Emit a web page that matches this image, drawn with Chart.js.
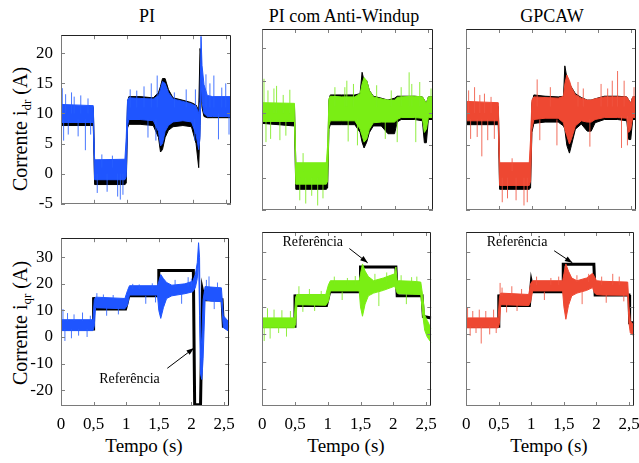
<!DOCTYPE html>
<html>
<head>
<meta charset="utf-8">
<script src="https://cdn.jsdelivr.net/npm/chart.js@4.4.1/dist/chart.umd.min.js"></script>
<style>
  body { margin: 0; background: #fff; }
  #fig { position: relative; width: 639px; height: 463px; overflow: hidden;
         font-family: 'Liberation Serif', 'Times New Roman', serif; color: #000; }
  #fig canvas { position: absolute; }
  .title { position: absolute; font-size: 18px; line-height: 18px; white-space: nowrap; transform: translateX(-50%); }
  .ylab { position: absolute; font-size: 20px; line-height: 20px; white-space: nowrap;
          transform: translate(-50%, -50%) rotate(-90deg); }
  .ylab sub { font-size: 13px; line-height: 0; vertical-align: -4px; }
</style>
</head>
<body>
<div id="fig">
  <div class="title" style="left:147px; top:7px">PI</div>
  <div class="title" style="left:344px; top:7px">PI com Anti-Windup</div>
  <div class="title" style="left:552px; top:7px">GPCAW</div>
  <div class="ylab" style="left:20px; top:129px">Corrente i<sub>dr</sub> (A)</div>
  <div class="ylab" style="left:20px; top:323px">Corrente i<sub>qr</sub> (A)</div>
  <div class="title" style="left:144px; top:437px; font-size:19px">Tempo (s)</div>
  <div class="title" style="left:346px; top:437px; font-size:19px">Tempo (s)</div>
  <div class="title" style="left:549px; top:437px; font-size:19px">Tempo (s)</div>
</div>
<script>
// ---- tick values ----
const xTicks  = [0, 0.5, 1, 1.5, 2, 2.5];
const drTicks = [-5, 0, 5, 10, 15, 20];
const qrTicks = [-20, -10, 0, 10, 20, 30];

// ---- i_dr, PI ----
const piDrT       = [0, 0.49, 0.51, 0.97, 0.99, 1.01, 1.03, 1.20, 1.40, 1.48, 1.51, 1.54, 1.58, 1.63, 1.70, 1.85, 1.98, 2.05, 2.09, 2.11, 2.125, 2.14, 2.17, 2.22, 2.30, 2.58];
const piDrBlackHi = [11.0, 11.0, 2.2, 2.2, 2.4, 12.0, 12.8, 12.8, 12.6, 13.5, 14.5, 15.8, 15.8, 14.0, 12.6, 12.2, 11.8, 11.4, 10.5, 20.8, 19.5, 15.0, 13.2, 12.8, 12.6, 12.6];
const piDrBlackLo = [8.0, 8.0, -1.8, -1.8, -1.6, 7.6, 8.2, 8.2, 8.0, 6.0, 3.6, 4.0, 6.0, 7.2, 7.8, 8.0, 7.8, 5.0, 1.0, 8.0, 15.0, 11.0, 9.5, 9.3, 9.3, 9.3];
const piDrHi      = [11.5, 11.3, 2.3, 2.4, 6.0, 12.2, 12.6, 12.5, 12.4, 13.0, 14.0, 15.3, 15.0, 13.5, 12.4, 12.0, 11.6, 11.2, 10.0, 12.0, 22.8, 18.0, 14.8, 13.0, 12.8, 12.8];
const piDrLo      = [8.5, 8.5, -1.0, -1.0, -0.5, 8.0, 9.0, 9.0, 8.8, 7.0, 4.6, 5.0, 7.0, 8.0, 8.6, 8.8, 8.6, 6.5, 4.0, 6.0, 16.0, 12.0, 10.0, 9.5, 9.5, 9.5];
const piDrSpikes  = [[0.02, 10, 14.2], [0.04, 5.5, 9], [0.07, 10, 13.2], [0.11, 6.5, 9], [0.16, 10, 13.5], [0.2, 10, 12.8],
  [0.26, 6.2, 9], [0.3, 10, 13.0], [0.37, 3.9, 9], [0.41, 10, 12.5], [0.45, 6.5, 9],
  [0.55, -3.2, 0], [0.62, 1, 3.2], [0.7, -3.0, 0], [0.78, 1, 3.0], [0.86, -3.8, 0], [0.9, -4.3, 0], [0.94, -3.5, 0],
  [1.05, 11, 14.0], [1.15, 11, 13.8], [1.26, 11, 14.5], [1.32, 6.0, 9], [1.37, 11, 15.0], [1.46, 11, 16.3], [1.44, 5.5, 9],
  [1.72, 11, 13.5], [1.9, 11, 14.0], [2.04, 11, 14.0], [2.03, 5.5, 9],
  [2.2, 11, 16.5], [2.26, 11, 15.0], [2.32, 11, 16.3], [2.39, 5.7, 10], [2.44, 11, 14.3], [2.5, 11, 15.0], [2.55, 6.5, 10]];

// ---- i_dr, PI com Anti-Windup ----
const awDrT       = [0, 0.49, 0.51, 0.97, 0.99, 1.01, 1.03, 1.20, 1.40, 1.48, 1.51, 1.54, 1.58, 1.62, 1.68, 1.80, 1.90, 2.00, 2.04, 2.10, 2.30, 2.42, 2.45, 2.48, 2.51, 2.58];
const awDrBlackHi = [11.2, 11.2, 2.2, 2.2, 2.5, 12.0, 12.8, 12.8, 12.8, 13.0, 16.3, 15.0, 15.0, 13.5, 12.6, 12.3, 12.0, 12.3, 12.6, 12.6, 12.6, 12.5, 12.0, 11.5, 12.5, 12.5];
const awDrBlackLo = [8.4, 8.0, -1.8, -1.8, -1.6, 7.5, 8.2, 8.2, 8.2, 7.0, 5.5, 4.6, 5.5, 7.0, 8.0, 8.0, 6.8, 6.8, 8.6, 9.0, 9.0, 8.8, 5.4, 5.4, 9.0, 9.0];
const awDrHi      = [11.6, 11.5, 2.3, 2.3, 5.0, 12.2, 12.6, 12.5, 12.5, 13.0, 14.5, 15.5, 15.0, 13.5, 12.5, 12.2, 12.0, 12.0, 12.4, 12.5, 12.6, 12.5, 12.0, 11.5, 12.5, 12.5];
const awDrLo      = [8.7, 8.7, -1.0, -1.0, -0.5, 8.0, 8.8, 8.8, 8.8, 7.5, 6.5, 5.5, 6.0, 7.5, 8.5, 8.6, 8.6, 8.6, 9.0, 9.3, 9.3, 9.2, 7.0, 7.5, 9.3, 9.3];
const awDrSpikes  = [[0.03, 10, 15.3], [0.06, 5.5, 9], [0.09, 10, 13.5], [0.13, 6.0, 9], [0.18, 10, 13.8], [0.22, 10, 14.2],
  [0.27, 5.8, 9], [0.32, 10, 12.8], [0.36, 6.5, 9], [0.42, 10, 13.6],
  [0.57, -3.5, 0], [0.62, 1, 3.8], [0.66, -4.0, 0], [0.75, -2.8, 0], [0.84, -4.3, 0], [0.92, -3.2, 0],
  [1.1, 11, 14.0], [1.25, 11, 14.0], [1.28, 11, 15.0], [1.3, 5.6, 9], [1.38, 11, 14.5], [1.44, 5.0, 9],
  [1.73, 11, 14.3], [1.86, 6.0, 9], [1.95, 11, 13.5], [2.04, 5.5, 9],
  [2.1, 11, 14.0], [2.22, 11, 16.3], [2.26, 11, 14.5], [2.32, 5.5, 10], [2.38, 11, 14.8], [2.55, 11, 13.8]];

// ---- i_dr, GPCAW ----
const gpDrT       = [0, 0.49, 0.51, 0.96, 0.98, 1.00, 1.03, 1.20, 1.40, 1.48, 1.50, 1.53, 1.57, 1.60, 1.66, 1.75, 1.84, 1.90, 1.96, 2.10, 2.30, 2.44, 2.47, 2.50, 2.53, 2.58];
const gpDrBlackHi = [11.0, 11.0, 2.2, 2.2, 2.5, 11.5, 12.8, 12.6, 12.5, 12.6, 17.3, 15.5, 14.5, 14.0, 13.0, 12.4, 12.0, 12.0, 12.2, 12.6, 12.6, 12.5, 12.0, 11.5, 12.5, 12.5];
const gpDrBlackLo = [8.2, 8.2, -1.8, -1.8, -1.6, 7.0, 8.4, 8.6, 8.6, 8.0, 7.5, 5.0, 3.8, 5.0, 7.5, 8.3, 7.2, 7.2, 8.5, 9.0, 9.0, 8.8, 5.9, 5.9, 9.0, 9.0];
const gpDrHi      = [11.8, 11.6, 2.3, 2.3, 6.0, 12.0, 12.5, 12.4, 12.3, 12.6, 14.5, 15.9, 15.0, 14.0, 12.8, 12.3, 12.0, 12.0, 12.2, 12.5, 12.5, 12.5, 12.0, 11.5, 12.5, 12.5];
const gpDrLo      = [8.8, 8.8, -1.2, -1.2, -0.5, 7.5, 9.0, 9.2, 9.2, 8.5, 7.5, 6.5, 5.2, 6.0, 8.0, 8.8, 8.6, 8.6, 9.0, 9.3, 9.3, 9.2, 7.0, 7.5, 9.3, 9.3];
const gpDrSpikes  = [[0.04, 10, 13.5], [0.07, 6.0, 9], [0.13, 10, 14.0], [0.17, 6.3, 9], [0.21, 10, 12.8], [0.24, 3.3, 9],
  [0.28, 10, 13.0], [0.33, 5.8, 9], [0.38, 10, 12.5], [0.43, 6.0, 9],
  [0.55, -3.8, 0], [0.63, -3.2, 0], [0.7, 1, 3.0], [0.76, -3.5, 0], [0.88, -4.3, 0], [0.93, -3.8, 0],
  [1.08, 11, 15.2], [1.12, 5.8, 9], [1.28, 11, 14.0], [1.38, 5.0, 9], [1.7, 11, 14.8], [1.78, 11, 13.8], [1.88, 4.8, 9],
  [2.05, 11, 14.5], [2.15, 11, 13.8], [2.22, 11, 15.0], [2.3, 11, 16.5], [2.36, 4.6, 9.5], [2.4, 11, 15.0], [2.45, 5.0, 9.5], [2.55, 11, 14.0]];

// ---- i_qr, PI ----
const piQrT      = [0, 0.49, 0.51, 0.53, 0.98, 1.02, 1.05, 1.48, 1.50, 1.53, 1.57, 1.62, 1.70, 1.90, 2.02, 2.06, 2.09, 2.11, 2.125, 2.14, 2.16, 2.18, 2.21, 2.30, 2.46, 2.49, 2.58];
const piQrHi     = [6.5, 6.5, 14.0, 15.0, 14.5, 17.5, 19.3, 19.3, 21.0, 23.5, 22.0, 20.5, 19.5, 20.0, 21.0, 23.5, 28.0, 35.5, 30.0, -8.0, 0.0, 14.0, 19.0, 18.8, 18.5, 8.0, 5.5];
const piQrLo     = [2.4, 2.4, 4.0, 11.0, 10.6, 12.0, 15.8, 15.8, 10.0, 7.0, 11.0, 14.5, 15.5, 16.3, 17.0, 18.5, 22.0, 30.0, 8.0, -14.0, -16.0, -8.0, 14.0, 13.5, 13.3, 3.5, 2.0];
const piQrRefT   = [0, 0.50, 0.50, 0.53, 0.99, 1.04, 1.50, 1.50, 2.03, 2.05, 2.14, 2.17, 2.20, 2.47, 2.49, 2.58];
const piQrRefV   = [3.0, 3.0, 15.0, 10.5, 10.5, 15.5, 15.5, 25.0, 25.0, -25.5, -25.5, 17.5, 14.0, 14.0, 4.0, 4.0];
const piQrSpikes = [[0.03, 6, 10.5], [0.06, -1.5, 3], [0.1, 6, 9], [0.16, -0.5, 3], [0.2, 6, 8.5], [0.27, 0.5, 3],
  [0.33, 6, 9.2], [0.4, 0, 3], [0.45, 6, 8.0],
  [0.55, 14, 16.5], [0.65, 14, 16.0], [0.7, 8.0, 11], [0.8, 14, 15.8], [0.88, 8.5, 11],
  [1.1, 18, 20.0], [1.2, 18, 19.8], [1.3, 12.5, 15.5], [1.4, 18, 20.2], [1.45, 13, 15.5],
  [1.75, 19, 21.5], [1.85, 12.5, 16.5], [1.95, 19, 22.5], [2.0, 19, 22.0],
  [2.23, 18, 21.5], [2.27, 18, 22.8], [2.35, 10.5, 14], [2.4, 18, 20.5]];

// ---- i_qr, PI com Anti-Windup ----
const awQrT      = [0, 0.49, 0.51, 0.53, 0.97, 1.01, 1.04, 1.48, 1.50, 1.53, 1.57, 1.62, 1.70, 1.85, 2.02, 2.04, 2.06, 2.08, 2.30, 2.42, 2.45, 2.48, 2.52, 2.58];
const awQrHi     = [6.0, 6.0, 13.5, 14.5, 14.5, 18.0, 19.5, 19.5, 22.0, 25.6, 23.0, 21.0, 19.5, 20.5, 22.0, 24.5, 19.5, 19.5, 19.3, 19.0, 14.0, 7.0, 5.0, 2.0];
const awQrLo     = [2.4, 2.4, 4.0, 10.8, 10.6, 12.0, 15.8, 15.8, 10.0, 6.6, 11.0, 14.0, 15.0, 16.0, 17.5, 16.5, 15.0, 14.8, 14.6, 14.5, 7.0, 1.5, -1.0, -3.0];
const awQrRefT   = [0, 0.50, 0.50, 0.53, 0.98, 1.03, 1.50, 1.50, 2.04, 2.06, 2.44, 2.46, 2.58];
const awQrRefV   = [3.0, 3.0, 14.5, 10.5, 10.5, 15.5, 15.5, 24.5, 24.5, 14.0, 14.0, 6.5, 6.0];
const awQrSpikes = [[0.03, -2.4, 3], [0.08, 6, 9.5], [0.12, -1.5, 3], [0.18, 6, 9.0], [0.25, 0.5, 3], [0.3, 6, 8.8],
  [0.37, -0.8, 3], [0.43, 6, 8.5],
  [0.56, 14, 17.5], [0.62, 8.2, 11], [0.72, 14, 16.5], [0.8, 8.5, 11], [0.9, 14, 15.8],
  [1.1, 18, 21.0], [1.22, 12.5, 15.5], [1.3, 18, 20.5], [1.42, 18, 21.2],
  [1.72, 19, 22.0], [1.78, 10.3, 16], [1.9, 19, 22.5],
  [2.12, 18, 21.5], [2.2, 11.0, 15], [2.28, 18, 20.8], [2.36, 18, 21.0]];

// ---- i_qr, GPCAW ----
const gpQrT      = [0, 0.49, 0.51, 0.53, 0.96, 0.99, 1.02, 1.48, 1.50, 1.53, 1.57, 1.62, 1.70, 1.85, 1.94, 1.97, 2.00, 2.10, 2.48, 2.50, 2.52, 2.58];
const gpQrHi     = [6.0, 6.0, 13.5, 15.0, 14.5, 18.5, 19.5, 19.5, 22.0, 25.6, 23.0, 20.5, 19.5, 20.5, 22.2, 21.0, 19.5, 19.3, 19.0, 10.0, 5.0, 3.0];
const gpQrLo     = [2.4, 2.4, 4.0, 10.8, 10.5, 12.0, 15.8, 15.8, 10.0, 5.5, 10.5, 14.0, 15.0, 16.0, 17.0, 15.0, 14.5, 14.3, 14.2, 4.0, 0.5, -0.6];
const gpQrRefT   = [0, 0.50, 0.50, 0.53, 0.97, 1.00, 1.03, 1.49, 1.49, 1.96, 1.98, 2.50, 2.51, 2.58];
const gpQrRefV   = [3.0, 3.0, 14.5, 10.5, 10.5, 19.0, 15.5, 15.5, 25.5, 25.5, 14.3, 14.3, 4.2, 4.2];
const gpQrSpikes = [[0.02, 6, 9.7], [0.06, -0.5, 3], [0.1, 6, 8.5], [0.15, 0.5, 3], [0.2, 6, 9.0], [0.23, -3.3, 3],
  [0.3, 6, 8.5], [0.36, 0, 3], [0.42, 6, 9.0], [0.46, 0.5, 3],
  [0.52, 14, 18.7], [0.55, 14, 17.0], [0.62, 8.0, 11], [0.7, 14, 17.5], [0.78, 8.5, 11], [0.85, 14, 16.5],
  [1.08, 18, 21.0], [1.2, 12.5, 15.5], [1.3, 18, 20.5], [1.42, 18, 21.0],
  [1.7, 19, 21.5], [1.78, 11.0, 16], [1.88, 19, 22.0],
  [2.08, 18, 21.0], [2.15, 11.5, 14.5], [2.25, 18, 22.0], [2.35, 18, 21.0], [2.42, 12, 14.5]];

// ---- colours ----
const BLUE  = { line: '#1f55ff', spike: 'rgba(40,95,255,0.85)' };
const GREEN = { line: '#7aee14', spike: 'rgba(125,235,30,0.85)' };
const RED   = { line: '#ee4832', spike: 'rgba(240,85,65,0.85)' };

// ---- layout of the six plot boxes (page pixels) ----
const COL_X = [61, 262, 466];
const COL_W = [170, 171, 170];
const ROW_Y = [29, 232];
const ROW_H = [181, 174];
const FONT = "'Liberation Serif', 'Times New Roman', serif";

Chart.defaults.font.family = FONT;
Chart.defaults.color = '#000';

const pts = (t, v) => t.map((x, i) => ({ x, y: v[i] }));

// lower and upper edge of a noisy trace, area between them filled
function band(t, lo, hi, color, order) {
  return [
    { data: pts(t, lo), borderColor: color, borderWidth: 1, backgroundColor: color, fill: false, order },
    { data: pts(t, hi), borderColor: color, borderWidth: 1, backgroundColor: color, fill: '-1', order },
  ];
}

// isolated noise spikes, drawn as thin vertical strokes
function spikeSet(list, color) {
  const data = [];
  list.forEach(([x, lo, hi]) => { data.push({ x, y: lo }, { x, y: hi }, { x, y: null }); });
  return { data, borderColor: color, borderWidth: 1, fill: false, spanGaps: false, order: 1 };
}

// box with inward tick marks on all four sides
const framePlugin = {
  id: 'frame',
  afterDatasetsDraw(chart) {
    const { ctx, chartArea: a, scales: { x, y } } = chart;
    ctx.save();
    ctx.lineWidth = 1;
    ctx.strokeStyle = '#808080';
    ctx.beginPath();
    x.ticks.forEach(tk => {
      const px = Math.round(x.getPixelForValue(tk.value)) + 0.5;
      ctx.moveTo(px, a.bottom); ctx.lineTo(px, a.bottom - 4);
      ctx.moveTo(px, a.top);    ctx.lineTo(px, a.top + 4);
    });
    y.ticks.forEach(tk => {
      const py = Math.round(y.getPixelForValue(tk.value)) + 0.5;
      ctx.moveTo(a.left, py);  ctx.lineTo(a.left + 4, py);
      ctx.moveTo(a.right, py); ctx.lineTo(a.right - 4, py);
    });
    ctx.stroke();
    const l = Math.round(a.left) + 0.5, r = Math.round(a.right) - 0.5;
    const t = Math.round(a.top) + 0.5, b = Math.round(a.bottom) - 0.5;
    ctx.strokeStyle = '#7a7a7a';
    ctx.beginPath(); ctx.moveTo(l, t); ctx.lineTo(l, b); ctx.lineTo(r, b); ctx.stroke();
    ctx.strokeStyle = '#222';
    ctx.beginPath(); ctx.moveTo(l, t); ctx.lineTo(r, t); ctx.lineTo(r, b); ctx.stroke();
    ctx.restore();
  }
};

// "Referência" label with an arrow, positioned in data units
const notePlugin = {
  id: 'note',
  afterDatasetsDraw(chart, args, opts) {
    if (!opts || !opts.text) return;
    const { ctx, scales: { x, y } } = chart;
    const X = v => x.getPixelForValue(v), Y = v => y.getPixelForValue(v);
    ctx.save();
    ctx.font = '14px ' + FONT;
    ctx.fillStyle = '#000';
    ctx.textAlign = 'center';
    ctx.textBaseline = 'middle';
    ctx.fillText(opts.text, X(opts.at[0]), Y(opts.at[1]));
    const x0 = X(opts.from[0]), y0 = Y(opts.from[1]);
    const x1 = X(opts.to[0]),   y1 = Y(opts.to[1]);
    const ang = Math.atan2(y1 - y0, x1 - x0);
    ctx.strokeStyle = '#000';
    ctx.lineWidth = 1;
    ctx.beginPath(); ctx.moveTo(x0, y0); ctx.lineTo(x1, y1); ctx.stroke();
    ctx.beginPath();
    ctx.moveTo(x1, y1);
    ctx.lineTo(x1 - 8 * Math.cos(ang - 0.35), y1 - 8 * Math.sin(ang - 0.35));
    ctx.lineTo(x1 - 8 * Math.cos(ang + 0.35), y1 - 8 * Math.sin(ang + 0.35));
    ctx.closePath();
    ctx.fill();
    ctx.restore();
  }
};

const panels = [
  { row: 0, col: 0, color: BLUE, t: piDrT, lo: piDrLo, hi: piDrHi, bLo: piDrBlackLo, bHi: piDrBlackHi, spikes: piDrSpikes },
  { row: 0, col: 1, color: GREEN, t: awDrT, lo: awDrLo, hi: awDrHi, bLo: awDrBlackLo, bHi: awDrBlackHi, spikes: awDrSpikes },
  { row: 0, col: 2, color: RED, t: gpDrT, lo: gpDrLo, hi: gpDrHi, bLo: gpDrBlackLo, bHi: gpDrBlackHi, spikes: gpDrSpikes },
  { row: 1, col: 0, color: BLUE, t: piQrT, lo: piQrLo, hi: piQrHi, refT: piQrRefT, refV: piQrRefV, spikes: piQrSpikes,
    note: { text: 'Referência', at: [1.05, -15.9], from: [1.63, -11.8], to: [2.04, -4.2] } },
  { row: 1, col: 1, color: GREEN, t: awQrT, lo: awQrLo, hi: awQrHi, refT: awQrRefT, refV: awQrRefV, spikes: awQrSpikes,
    note: { text: 'Referência', at: [0.77, 33.6], from: [1.33, 31.2], to: [1.61, 26.0] } },
  { row: 1, col: 2, color: RED, t: gpQrT, lo: gpQrLo, hi: gpQrHi, refT: gpQrRefT, refV: gpQrRefV, spikes: gpQrSpikes,
    note: { text: 'Referência', at: [0.78, 33.6], from: [1.35, 30.4], to: [1.63, 26.0] } },
];

const fig = document.getElementById('fig');

panels.forEach(p => {
  const showY = p.col === 0, showX = p.row === 1;
  const padL = showY ? 50 : 12, padR = 12, padT = 12, padB = showX ? 30 : 12;
  const W = COL_W[p.col], H = ROW_H[p.row];
  const canvas = document.createElement('canvas');
  canvas.width = W + padL + padR;
  canvas.height = H + padT + padB;
  canvas.style.left = (COL_X[p.col] - padL) + 'px';
  canvas.style.top = (ROW_Y[p.row] - padT) + 'px';
  fig.appendChild(canvas);

  const datasets = [];
  if (p.bLo) datasets.push(...band(p.t, p.bLo, p.bHi, '#000', 3));
  datasets.push(...band(p.t, p.lo, p.hi, p.color.line, 2));
  datasets.push(spikeSet(p.spikes, p.color.spike));
  if (p.refT) datasets.push({ data: pts(p.refT, p.refV), borderColor: '#000', borderWidth: 3, fill: false, order: 3 });

  const yTicks = p.row === 0 ? drTicks : qrTicks;
  new Chart(canvas, {
    type: 'line',
    data: { datasets },
    options: {
      responsive: false,
      animation: false,
      devicePixelRatio: 1,
      events: [],
      layout: { padding: { left: 0, right: padR, top: padT, bottom: 0 } },
      elements: { point: { radius: 0 }, line: { tension: 0 } },
      plugins: { legend: { display: false }, tooltip: { enabled: false }, note: p.note || {} },
      scales: {
        x: {
          type: 'linear', min: 0, max: 2.58, offset: false,
          afterBuildTicks: s => { s.ticks = xTicks.map(v => ({ value: v })); },
          afterFit: s => { s.height = padB; },
          grid: { display: false, drawTicks: false }, border: { display: false },
          ticks: { display: showX, autoSkip: false, maxRotation: 0, padding: 8, color: '#000',
                   font: { family: FONT, size: 17 }, callback: v => String(v).replace('.', ',') },
        },
        y: {
          type: 'linear', min: p.row === 0 ? -5 : -26, max: p.row === 0 ? 23 : 37.2,
          afterBuildTicks: s => { s.ticks = yTicks.map(v => ({ value: v })); },
          afterFit: s => { s.width = padL; },
          grid: { display: false, drawTicks: false }, border: { display: false },
          ticks: { display: showY, padding: 8, color: '#000', font: { family: FONT, size: 17 } },
        },
      },
    },
    plugins: [framePlugin, notePlugin],
  });
});
</script>
</body>
</html>
